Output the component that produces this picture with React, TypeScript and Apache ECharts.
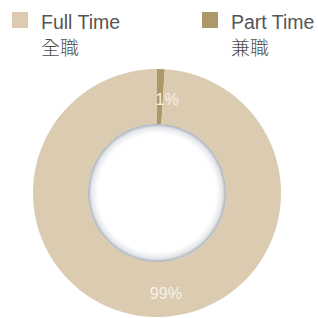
import React, { useEffect, useRef } from "react";
import * as echarts from "echarts";

const categories = ["Part Time", "Full Time"];
const chineseNames = ["兼職", "全職"];
const values = [1, 99];
const colors = ["#ae9768", "#dacbb1"];

export default function App() {
  const ref = useRef<HTMLDivElement>(null);
  useEffect(() => {
    document.body.style.margin = "0";
    const chart = echarts.init(ref.current!, null, { renderer: "svg" });
    const nameMap: Record<string, string> = {};
    categories.forEach((c, i) => (nameMap[c] = chineseNames[i]));
    const legendCommon = {
      orient: "horizontal",
      top: -18,
      padding: 0,
      itemWidth: 16,
      itemHeight: 16,
      icon: "rect",
      selectedMode: false,
      formatter: (n: string) => `{s|}\n{a|${n}}\n{b|${nameMap[n]}}`,
      textStyle: {
        fontFamily: "Liberation Sans",
        color: "#555555",
        rich: {
          s: { height: 28, lineHeight: 28 },
          a: {
            fontFamily: "Liberation Sans",
            fontSize: 19.5,
            lineHeight: 24,
            color: "#555555",
            padding: [0, 0, 0, 8],
          },
          b: {
            fontFamily: "Noto Sans CJK TC",
            fontWeight: 300,
            fontSize: 19,
            lineHeight: 24,
            color: "#4d4d4d",
            padding: [0, 0, 0, 8],
          },
        },
      },
    };
    chart.setOption({
      animation: false,
      color: colors,
      legend: [
        { ...legendCommon, left: 12, data: ["Full Time"] },
        { ...legendCommon, left: 202, data: ["Part Time"] },
      ],
      series: [
        {
          type: "pie",
          center: [157, 193],
          radius: [69, 124],
          startAngle: 90,
          clockwise: true,
          silent: true,
          itemStyle: { borderWidth: 0 },
          labelLine: { show: false },
          label: {
            show: true,
            position: "inside",
            color: "#f6f1e8",
            fontFamily: "Liberation Sans",
            fontSize: 16,
            formatter: "{c}%",
          },
          data: categories.map((c, i) => ({
            name: c,
            value: values[i],
            label: {
              offset: i === 0 ? [7, 6] : [12, 1],
            },
          })),
        },
        {
          type: "pie",
          center: [157, 193],
          radius: [0, 69],
          silent: true,
          label: { show: false },
          labelLine: { show: false },
          itemStyle: {
            color: {
              type: "radial",
              x: 0.5,
              y: 0.5,
              r: 0.5,
              colorStops: [
                { offset: 0, color: "#ffffff" },
                { offset: 0.86, color: "#ffffff" },
                { offset: 0.95, color: "#e4e7eb" },
                { offset: 1, color: "#a9b0b9" },
              ],
            },
          },
          data: [{ name: "inner", value: 1 }],
        },
      ],
    });
    return () => chart.dispose();
  }, []);
  return <div ref={ref} style={{ width: 318, height: 318 }} />;
}
